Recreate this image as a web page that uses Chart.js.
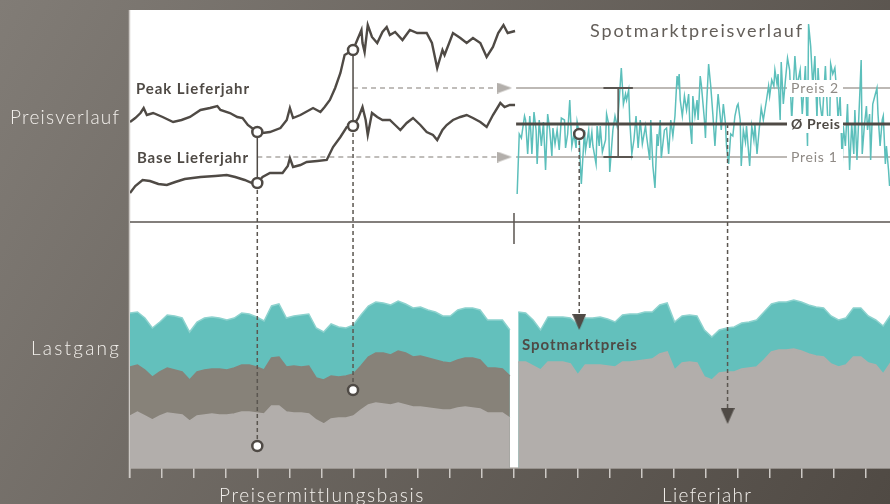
<!DOCTYPE html>
<html lang="de">
<head>
<meta charset="utf-8">
<title>Preisverlauf und Lastgang</title>
<script src="https://cdn.jsdelivr.net/npm/chart.js@4.4.1/dist/chart.umd.min.js"></script>
<style>
  html, body { margin: 0; padding: 0; background: #67625c; }
  #chart { display: block; }
</style>
</head>
<body>
<canvas id="chart" width="890" height="504"></canvas>
<script>
// x in Tagen: 0..365 Preisermittlungsbasis, 365..730 Lieferjahr
var year = 365;
var xMax = 722.4;
var monthTicks = Array.from({length: 24}, function(_, i){ return i * year / 12; });

// Terminmarkt (Preisermittlungsbasis), EUR/MWh
var peakDays = [0,5,10,13,16,22,31,41,49,57,67,76,83,86,95,102,107,112,121,126,133,143,149,152,155,162,174,181,185,190,195,200,204,212,216,220,221,223,226,230,235,240,244,247,252,259,266,273,282,287,292,297,299,307,314,320,326,333,339,345,350,355,359,366];
var peakPrice = [64,66,68.5,71,67.5,68.5,66.5,64,65,66.5,70,71,72,70,68.5,66.5,66,62.5,59,58.5,59,61,65,71,66,67.5,71,69,71.5,75,81,88.5,97.5,100,105,110,103.5,99,112.5,106.5,103.5,109,111.5,107.5,109,105,110,108.5,108.5,103.5,91,100,97.5,108.5,106,103.5,106,103.5,96.5,101.5,108.5,112.5,108.5,109.5];
var baseDays = [0,5,12,19,27,35,43,52,67,81,92,100,109,116,121,126,133,145,150,152,155,162,168,178,187,193,200,206,212,217,221,224,226,230,235,240,247,252,257,263,269,276,282,288,292,297,301,307,314,320,326,333,339,345,352,356,361,366];
var basePrice = [28.5,32,35,34.5,33,32.5,34,35.5,36.5,37,37.5,36.5,35,33.5,33.5,36.5,38.5,38.5,42,46,41.5,42.5,44,44.5,45,51.5,56.5,61.5,62,66,71.5,65,57.5,68.5,66.5,65,65,62.5,60,63.5,66,62.5,59,57.5,55,60,62.5,65,66.5,67.5,66,64,61.5,67.5,73.5,71.5,72.5,72.5];

// Spotmarkt im Lieferjahr (Tag im Lieferjahr, EUR/MWh)
var spotDay = [3,5,7,10,11,13,15,16,17,19,21,22,24,26,28,30,32,34,36,37,39,41,43,45,48,49,51,53,55,57,59,60,62,63,64,67,68,71,72,74,75,78,79,81,82,84,87,88,90,91,94,96,98,99,102,104,106,107,109,110,112,114,116,118,120,122,125,126,129,130,132,134,136,137,139,140,143,145,147,149,151,153,155,156,157,158,160,162,164,166,167,169,170,172,174,175,177,178,181,182,183,185,187,189,191,193,194,196,197,199,201,202,204,206,208,210,212,213,215,216,218,220,221,224,226,228,229,231,233,235,237,240,242,243,245,247,248,250,251,253,254,256,258,260,262,264,267,269,272,274,277,279,280,282,284,286,288,289,291,293,296,298,300,301,303,305,307,308,310,312,313,315,317,319,321,323,324,326,327,329,330,331,333,335,336,338,339,341,343,345,346,348,350,351,353,354,356,357];
var spotPrice = [28,58,56,67,65,48,67,59,48,69,60,43,65,52,64,40,68,60,47,61,53,60,50,66,65,51,58,75,52,58,51,64,58,43,33,60,50,60,51,59,52,43,62,52,62,49,55,68,63,39,60,67,62,67,91,73,78,75,80,65,48,55,67,51,65,53,62,57,45,65,42,31,58,52,65,46,60,61,48,65,57,67,87,83,88,75,67,77,70,78,65,53,77,67,75,65,87,83,65,56,72,93,82,68,52,70,78,67,60,73,63,52,43,58,57,67,72,73,65,42,60,54,62,42,62,55,63,48,60,71,65,75,82,77,85,82,90,83,88,65,94,73,85,96,90,65,97,82,90,68,92,52,113,102,82,97,65,91,73,65,92,68,60,93,88,91,77,65,77,43,62,52,73,40,63,48,70,45,57,82,95,48,62,72,60,68,45,73,77,81,68,52,65,67,43,52,40,32];

// Lastgang, Wochenwerte (MW)
var weekStep = 7.08;
var loadLeftStart = 0;
var loadRightStart = 369;
var loadTopLeft  = [155,156,150,140,146,153,152,150,136,146,150,151,150,148,150,155,154,151,147,162,164,150,152,153,154,140,136,144,141,140,143,153,162,166,165,163,167,164,160,161,158,156,152,152,158,160,160,158,148,148,148,138];
var loadPeakLeft = [101,103,98,91,96,100,98,96,88,96,98,99,99,98,100,103,103,101,98,110,111,101,102,101,102,90,88,92,91,92,94,102,111,115,115,113,117,115,111,112,110,108,106,105,108,110,110,108,100,100,99,92];
var loadBaseLeft = [52,56,52,48,52,55,54,53,47,52,53,54,53,53,54,56,56,55,54,62,62,56,55,55,54,48,44,49,50,50,52,58,63,65,64,63,65,63,61,61,60,59,58,58,60,61,60,59,55,55,55,50];
var loadTopRight  = [156,155,148,138,151,151,151,150,144,150,150,151,149,146,153,154,154,156,156,163,165,146,152,153,152,138,131,138,140,141,145,146,148,156,164,166,166,168,166,163,161,160,152,148,150,160,160,152,148,142,153];
var loadBaseRight = [106,106,102,98,106,106,106,104,93,103,103,103,102,101,106,106,107,108,109,114,116,98,105,106,105,91,88,95,96,96,99,100,101,108,116,118,118,119,117,114,112,111,104,101,103,111,111,105,103,94,105];

// Stichtage der Preisermittlung und Ableitungen
var fixDays = [121, 212];
var fixPeak = [59, 100];
var fixBase = [33.5, 62];
var fixLoad = [22, 78];
var price2 = 81, avgPrice = 63, price1 = 46.5;
var refStart = 367, dashEnd = 349, arrowDay = 356;
var spotFixDay = 62, spotFixPrice = 58, spotArrowLoad = 146;
var avgDropDay = 203, avgArrowLoad = 52;
var spanDay = 99, spanCap = 14;
var dividerPrice = 14;

var dark = '#4f4a45';

function pts(xs, ys, shift) {
  return xs.map(function(x, i){ return {x: x + (shift || 0), y: ys[i]}; });
}
function weekPts(vals, start) {
  return vals.map(function(v, i){ return {x: start + i * weekStep, y: v}; });
}
function seg(x1, y1, x2, y2) { return [{x: x1, y: y1}, {x: x2, y: y2}]; }

function arrowImg(w, h, color, dir) {
  var c = document.createElement('canvas');
  c.width = w; c.height = h;
  var g = c.getContext('2d');
  g.fillStyle = color;
  g.beginPath();
  if (dir === 'right') { g.moveTo(0, 0); g.lineTo(w, h / 2); g.lineTo(0, h); }
  else { g.moveTo(0, 0); g.lineTo(w, 0); g.lineTo(w / 2, h); }
  g.closePath();
  g.fill();
  return c;
}
var arrowRight = arrowImg(15, 11, '#b3afab', 'right');
var arrowDown = arrowImg(14, 16, dark, 'down');

function fillSet(data, color, edge, order) {
  return { data: data, yAxisID: 'yL', fill: 'origin', backgroundColor: color,
           borderColor: edge, borderWidth: 1.5, pointRadius: 0, order: order };
}
function lineSet(data, axis, color, width, order, extra) {
  var d = { data: data, yAxisID: axis, borderColor: color, borderWidth: width,
            pointRadius: 0, fill: false, order: order };
  return Object.assign(d, extra || {});
}

var datasets = [
  fillSet(weekPts(loadTopLeft, loadLeftStart), '#63c0bc', '#8dd2ce', 100),
  fillSet(weekPts(loadTopRight, loadRightStart), '#63c0bc', '#8dd2ce', 100),
  fillSet(weekPts(loadPeakLeft, loadLeftStart), '#878279', '#878279', 90),
  fillSet(weekPts(loadBaseLeft, loadLeftStart), '#b2aeab', '#b2aeab', 80),
  fillSet(weekPts(loadBaseRight, loadRightStart), '#b2aeab', '#b2aeab', 80),

  lineSet(seg(0, dividerPrice, xMax, dividerPrice), 'yP', '#5a5550', 1.5, 70),
  lineSet(seg(year, 18.5, year, 3), 'yP', '#5a5550', 1.5, 70),

  lineSet(seg(refStart, price2, xMax, price2), 'yP', '#bdb9b5', 2, 60),
  lineSet(seg(refStart, price1, xMax, price1), 'yP', '#bdb9b5', 2, 60),
  lineSet(seg(fixDays[1], price2, dashEnd, price2), 'yP', '#aca8a4', 1.5, 60, {borderDash: [5, 4]}),
  lineSet(seg(fixDays[0], price1, dashEnd, price1), 'yP', '#aca8a4', 1.5, 60, {borderDash: [5, 4]}),
  lineSet([{x: arrowDay, y: price2}, {x: arrowDay, y: price1}], 'yP', 'transparent', 0, 60,
          {showLine: false, pointRadius: 8, pointStyle: arrowRight}),

  lineSet(pts(spotDay, spotPrice, year), 'yP', '#5cbfbb', 1.5, 50),
  lineSet(seg(refStart, avgPrice, xMax, avgPrice), 'yP', dark, 3, 40),

  lineSet(seg(year + spanDay - spanCap, price2, year + spanDay + spanCap, price2), 'yP', '#5a5550', 2, 35),
  lineSet(seg(year + spanDay, price2, year + spanDay, price1), 'yP', '#5a5550', 1.5, 35),
  lineSet(seg(year + spanDay - spanCap, price1, year + spanDay + spanCap, price1), 'yP', '#5a5550', 2, 35),

  lineSet(pts(peakDays, peakPrice), 'yP', dark, 2.4, 30),
  lineSet(pts(baseDays, basePrice), 'yP', dark, 2.4, 30),

  lineSet([{x: fixDays[0], y: fixPeak[0]}, {x: fixDays[0], y: fixBase[0]},
           {x: fixDays[1], y: fixPeak[1]}, {x: fixDays[1], y: fixBase[1]},
           {x: year + spotFixDay, y: spotFixPrice}], 'yP', dark, 2.5, 10,
          {showLine: false, pointRadius: 5, pointBackgroundColor: '#fff', pointBorderColor: dark, pointBorderWidth: 2.5}),
  lineSet([{x: fixDays[0], y: fixLoad[0]}, {x: fixDays[1], y: fixLoad[1]}], 'yL', dark, 2.5, 10,
          {showLine: false, pointRadius: 5, pointBackgroundColor: '#fff', pointBorderColor: dark, pointBorderWidth: 2.5}),
  lineSet([{x: year + spotFixDay, y: spotArrowLoad}, {x: year + avgDropDay, y: avgArrowLoad}], 'yL', 'transparent', 0, 10,
          {showLine: false, pointRadius: 8, pointStyle: arrowDown})
];

function vline(ctx, x, y1, y2) {
  ctx.beginPath(); ctx.moveTo(x, y1); ctx.lineTo(x, y2); ctx.stroke();
}

function drawConnectors(chart) {
  var ctx = chart.ctx, sx = chart.scales.x, sp = chart.scales.yP, sl = chart.scales.yL;
  ctx.save();
  ctx.strokeStyle = dark;
  ctx.lineWidth = 1.5;
  fixDays.forEach(function(d, i){
    vline(ctx, sx.getPixelForValue(d), sp.getPixelForValue(fixPeak[i]), sp.getPixelForValue(fixBase[i]));
  });
  ctx.setLineDash([4, 3]);
  ctx.strokeStyle = '#5b5650';
  fixDays.forEach(function(d, i){
    vline(ctx, sx.getPixelForValue(d), sp.getPixelForValue(fixBase[i]), sl.getPixelForValue(fixLoad[i]));
  });
  vline(ctx, sx.getPixelForValue(year + spotFixDay), sp.getPixelForValue(spotFixPrice), sl.getPixelForValue(spotArrowLoad));
  vline(ctx, sx.getPixelForValue(year + avgDropDay), sp.getPixelForValue(avgPrice), sl.getPixelForValue(avgArrowLoad));
  ctx.restore();
}

function fitText(ctx, text, x, y, width) {
  ctx.letterSpacing = '0px';
  var w0 = ctx.measureText(text).width;
  if (width && 'letterSpacing' in ctx && text.length > 1) {
    ctx.letterSpacing = ((width - w0) / (text.length - 1)).toFixed(2) + 'px';
  }
  ctx.fillText(text, x, y);
  ctx.letterSpacing = '0px';
}

function drawLabels(chart) {
  var ctx = chart.ctx, sp = chart.scales.yP;
  ctx.save();
  ctx.textBaseline = 'alphabetic';
  ctx.textAlign = 'left';

  ctx.fillStyle = '#f3f0ec';
  ctx.font = '300 19px Lato';
  fitText(ctx, 'Preisverlauf', 10, 124, 109);
  fitText(ctx, 'Lastgang', 31, 355, 88);
  fitText(ctx, 'Preisermittlungsbasis', 219, 502, 204);
  fitText(ctx, 'Lieferjahr', 662, 502, 89);

  ctx.fillStyle = '#635e59';
  ctx.font = '400 18px Lato';
  fitText(ctx, 'Spotmarktpreisverlauf', 590, 37, 212);

  ctx.fillStyle = dark;
  ctx.font = '700 15px Lato';
  fitText(ctx, 'Peak Lieferjahr', 136, 94, 113);
  fitText(ctx, 'Base Lieferjahr', 137, 163, 111);
  fitText(ctx, 'Spotmarktpreis', 522, 350, 115);

  var refs = [
    {t: 'Preis 2', v: price2, w: 47, font: '400 14px Lato', c: '#8f8a85'},
    {t: '\u00d8 Preis', v: avgPrice, w: 49, font: '700 14px Lato', c: dark},
    {t: 'Preis 1', v: price1, w: 46, font: '400 14px Lato', c: '#8f8a85'}
  ];
  refs.forEach(function(r){
    var y = sp.getPixelForValue(r.v);
    ctx.fillStyle = '#fff';
    ctx.fillRect(787, y - 8, 56, 17);
    ctx.fillStyle = r.c;
    ctx.font = r.font;
    fitText(ctx, r.t, 791, y + 5, r.w);
  });
  ctx.restore();
}

var connectorsDone = false;
var decor = {
  id: 'decor',
  beforeDraw: function(chart) {
    var ctx = chart.ctx, a = chart.chartArea;
    ctx.save();
    var g = ctx.createLinearGradient(0, 0, chart.width, chart.height);
    g.addColorStop(0, '#817c76');
    g.addColorStop(1, '#504a44');
    ctx.fillStyle = g;
    ctx.fillRect(0, 0, chart.width, chart.height);
    ctx.fillStyle = '#fff';
    ctx.fillRect(a.left, a.top, a.right - a.left, a.bottom - a.top);
    ctx.strokeStyle = '#cdc9c5';
    ctx.lineWidth = 1.5;
    vline(ctx, a.left - 0.5, a.top, a.bottom + 10);
    ctx.restore();
  },
  beforeDatasetsDraw: function() { connectorsDone = false; },
  beforeDatasetDraw: function(chart, args) {
    if (connectorsDone || chart.data.datasets[args.index].order > 10) return;
    connectorsDone = true;
    drawConnectors(chart);
  },
  afterDraw: function(chart) { drawLabels(chart); }
};

var chart = new Chart(document.getElementById('chart'), {
  type: 'line',
  data: { datasets: datasets },
  plugins: [decor],
  options: {
    responsive: false,
    animation: false,
    devicePixelRatio: 1,
    layout: { autoPadding: false, padding: { left: 130, top: 10, right: 0, bottom: 26 } },
    plugins: { legend: { display: false }, tooltip: { enabled: false } },
    elements: { line: { tension: 0 } },
    scales: {
      x: {
        type: 'linear', min: 0, max: xMax, position: 'bottom',
        afterBuildTicks: function(s){ s.ticks = monthTicks.map(function(v){ return {value: v}; }); },
        ticks: { display: false },
        grid: { display: true, drawOnChartArea: false, drawTicks: true, tickLength: 10, color: '#cdc9c5', lineWidth: 1.5 },
        border: { display: true, color: '#cdc9c5', width: 1.5 }
      },
      yP: { type: 'linear', display: false, min: -109, max: 120 },
      yL: { type: 'linear', display: false, min: 0, max: 458 }
    }
  }
});
</script>
</body>
</html>
